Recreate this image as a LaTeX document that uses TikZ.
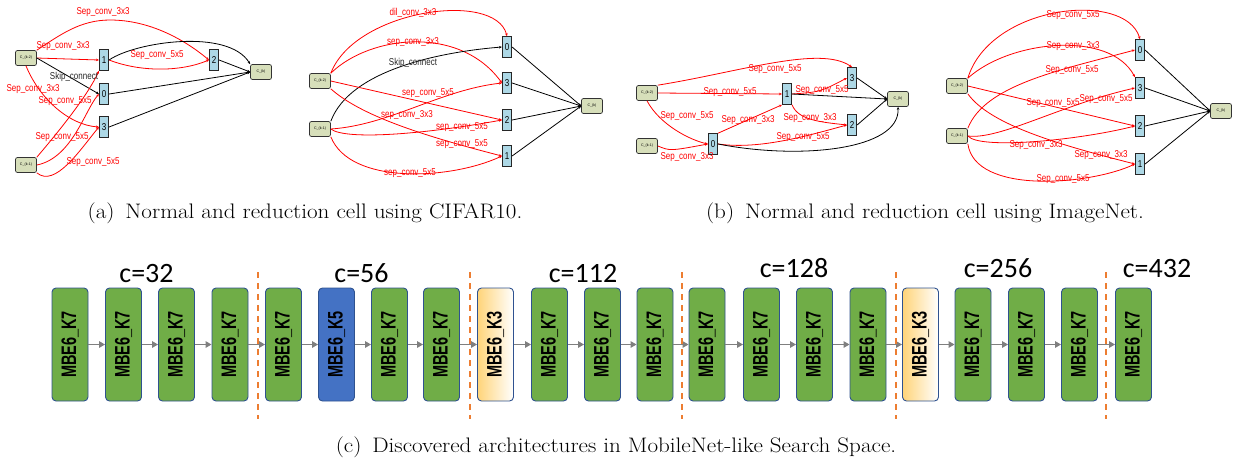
\documentclass[tikz,border=0pt]{standalone}
\usepackage{fontspec}
\newfontfamily\arialf{Liberation Sans}
\newfontfamily\arialn[FakeStretch=0.8]{Liberation Sans}
\newfontfamily\calif{Carlito}
\usetikzlibrary{arrows.meta}
\definecolor{cgreen}{HTML}{70AD47}
\definecolor{cborder}{HTML}{2F528F}
\definecolor{cblue}{HTML}{4472C4}
\definecolor{cyel}{HTML}{FFD479}
\definecolor{corange}{HTML}{ED7D31}
\definecolor{cnodefill}{HTML}{D7DFBA}
\definecolor{onodefill}{HTML}{ADD8E6}
\definecolor{egray}{HTML}{7F7F7F}
\definecolor{ered}{HTML}{FF0000}
\newcommand{\mbelab}[1]{\rotatebox{90}{\scalebox{0.69}[1]{\arialf\bfseries\fontsize{21}{21}\selectfont MBE6\_#1}}}
\newcommand{\captext}[1]{\scalebox{1.1}[1]{#1}}
\tikzset{
  cnode/.style={draw=black!80, line width=0.7pt, rounded corners=2pt, fill=cnodefill, minimum width=21pt, minimum height=15pt, inner sep=0pt, font=\arialf\fontsize{3.6}{4}\selectfont},
  onode/.style={draw=black!85, line width=0.7pt, fill=onodefill, minimum width=9.5pt, minimum height=21pt, inner sep=0pt, font=\arialn\fontsize{10}{10}\selectfont},
  redge/.style={draw=ered, line width=0.8pt, -{Stealth[length=3pt,width=2.6pt]}},
  bedge/.style={draw=black, line width=0.8pt, -{Stealth[length=3pt,width=2.6pt]}},
  elab/.style={text=ered, font=\arialn\fontsize{10}{10}\selectfont, inner sep=0pt},
  blab/.style={text=black!85, font=\arialn\fontsize{10}{10}\selectfont, inner sep=0pt},
  mbe/.style={draw=cborder, line width=0.9pt, rounded corners=4pt, minimum width=36pt, minimum height=113pt, inner sep=0pt},
  mgreen/.style={mbe, fill=cgreen},
  mblue/.style={mbe, fill=cblue},
  myel/.style={mbe, left color=cyel, right color=white},
  garrow/.style={draw=egray, line width=1.3pt, -{Triangle[length=6pt,width=6.5pt]}},
  sepline/.style={draw=corange, line width=1.5pt, dash pattern=on 6pt off 5pt},
  clab/.style={font=\calif\fontsize{28}{28}\selectfont, anchor=base, inner sep=0pt},
  caplab/.style={font=\fontsize{21}{24}\selectfont, anchor=base, inner sep=0pt},
}
\begin{document}
\begin{tikzpicture}[x=1pt,y=-1pt]
\useasboundingbox (0,0) rectangle (1233,461);
% ================= (a) =================
\node[cnode] (ak2) at (26,58) {C\_(k-2)};
\node[cnode] (ak1) at (26,165) {C\_(k-1)};
\node[onode] (a1) at (104,60) {1};
\node[onode] (a0) at (104,94) {0};
\node[onode] (a3) at (104,127) {3};
\node[onode] (a2) at (214,60) {2};
\node[cnode] (ak) at (261,72) {C\_(k)};
\draw[redge] (ak2.north east) .. controls (60,35) and (80,20) .. (110,20) .. controls (150,20) and (185,40) .. (a2.west);
\draw[redge] (ak2.east) -- (a1.west);
\draw[bedge] (ak2.east) -- (a0.west);
\draw[redge] (ak2.south) .. controls (40,100) and (70,125) .. (a3.west);
\draw[redge] (ak1.north east) .. controls (60,130) and (88,95) .. (a1.south west);
\draw[redge] (ak1.east) .. controls (72,158) and (85,110) .. (a0.west);
\draw[redge] (ak1.south east) .. controls (55,188) and (80,150) .. (a3.west);
\draw[redge] (a1.east) .. controls (140,72) and (180,72) .. (a2.west);
\draw[bedge] (a1.east) .. controls (135,42) and (228,28) .. (ak.north west);
\draw[bedge] (a2.east) -- (ak.west);
\draw[bedge] (a0.east) -- (ak.west);
\draw[bedge] (a3.east) -- (ak.west);
\node[elab] (la1) at (103,12) {Sep\_conv\_3x3};
\node[elab] (la2) at (63,46) {Sep\_conv\_3x3};
\node[blab] (la3) at (74,77) {Skip\_connect};
\node[elab] (la4) at (33,89) {Sep\_conv\_3x3};
\node[elab] (la5) at (65,101) {Sep\_conv\_5x5};
\node[elab] (la6) at (62,137) {Sep\_conv\_5x5};
\node[elab] (la7) at (93,162) {Sep\_conv\_5x5};
\node[elab] (la8) at (157,55) {Sep\_conv\_5x5};
% ================= (b) =================
\node[cnode] (bk2) at (320,81) {C\_(k-2)};
\node[cnode] (bk1) at (320,129) {C\_(k-1)};
\node[onode] (b0) at (507,47) {0};
\node[onode] (b3) at (507,83) {3};
\node[onode] (b2) at (507,120) {2};
\node[onode] (b1) at (507,156) {1};
\node[cnode] (bk) at (592,106) {C\_(k)};
\draw[redge] (bk2.north east) .. controls (355,10) and (495,-10) .. (b0.north);
\draw[redge] (bk2.north east) .. controls (370,35) and (460,25) .. (b3.west);
\draw[bedge] (bk1.north east) .. controls (350,70) and (440,52) .. (b0.west);
\draw[redge] (bk2.east) -- (b2.west);
\draw[redge] (bk1.east) .. controls (390,125) and (440,90) .. (b3.west);
\draw[redge] (bk1.east) .. controls (345,140) and (420,135) .. (b2.west);
\draw[redge] (bk2.south east) .. controls (360,115) and (420,135) .. (b1.west);
\draw[redge] (bk1.south east) .. controls (350,185) and (450,180) .. (b1.west);
\draw[bedge] (b0.east) -- (bk.west);
\draw[bedge] (b3.east) -- (bk.west);
\draw[bedge] (b2.east) -- (bk.west);
\draw[bedge] (b1.east) -- (bk.west);
\node[elab] (lb1) at (413,13) {dil\_conv\_3x3};
\node[elab] (lb2) at (413,42) {sep\_conv\_3x3};
\node[blab] (lb3) at (413,63) {Skip\_connect};
\node[elab] (lb4) at (428,93) {sep\_conv\_5x5};
\node[elab] (lb5) at (407,115) {sep\_conv\_3x3};
\node[elab] (lb6) at (462,127) {sep\_conv\_5x5};
\node[elab] (lb7) at (462,144) {sep\_conv\_5x5};
\node[elab] (lb8) at (410,173) {sep\_conv\_5x5};
% ================= (c) =================
\node[cnode] (ck2) at (647,93) {C\_(k-2)};
\node[cnode] (ck1) at (647,146) {C\_(k-1)};
\node[onode] (c1) at (787,94) {1};
\node[onode] (c3) at (852,78) {3};
\node[onode] (c2) at (852,125) {2};
\node[onode] (c0) at (713,144) {0};
\node[cnode] (ck) at (898,99) {C\_(k)};
\draw[redge] (ck2.north east) .. controls (740,72) and (820,45) .. (c3.north);
\draw[redge] (ck2.east) -- (c1.west);
\draw[redge] (ck2.south) .. controls (660,125) and (690,140) .. (c0.west);
\draw[redge] (ck1.east) .. controls (670,151) .. (c0.west);
\draw[redge] (c0.north east) -- (c1.south west);
\draw[redge] (c1.east) .. controls (820,92) .. (c3.west);
\draw[redge] (c1.south east) .. controls (798,120) and (820,122) .. (c2.west);
\draw[redge] (c0.east) .. controls (760,150) and (810,135) .. (c2.west);
\draw[bedge] (c1.east) -- (ck.west);
\draw[bedge] (c3.east) -- (ck.west);
\draw[bedge] (c2.east) -- (ck.west);
\draw[bedge] (c0.east) .. controls (800,160) and (900,150) .. (ck.south);
\node[elab] (lc1) at (775,69) {Sep\_conv\_5x5};
\node[elab] (lc2) at (730,92) {Sep\_conv\_5x5};
\node[elab] (lc3) at (687,116) {Sep\_conv\_5x5};
\node[elab] (lc4) at (687,157) {Sep\_conv\_3x3};
\node[elab] (lc5) at (748,120) {Sep\_conv\_3x3};
\node[elab] (lc6) at (822,90) {Sep\_conv\_5x5};
\node[elab] (lc7) at (810,118) {Sep\_conv\_3x3};
\node[elab] (lc8) at (803,137) {Sep\_conv\_5x5};
% ================= (d) =================
\node[cnode] (dk2) at (957,86) {C\_(k-2)};
\node[cnode] (dk1) at (957,136) {C\_(k-1)};
\node[onode] (d0) at (1140,50) {0};
\node[onode] (d3) at (1140,88) {3};
\node[onode] (d2) at (1140,126) {2};
\node[onode] (d1) at (1140,164) {1};
\node[cnode] (dk) at (1221,111) {C\_(k)};
\draw[redge] (dk2.north east) .. controls (990,5) and (1125,-10) .. (d0.north);
\draw[redge] (dk2.north east) .. controls (1010,40) and (1110,30) .. (d3.north west);
\draw[redge] (dk1.north east) .. controls (985,85) and (1060,70) .. (d0.west);
\draw[redge] (dk2.east) -- (d2.west);
\draw[redge] (dk1.east) .. controls (1000,140) and (1060,105) .. (d3.west);
\draw[redge] (dk1.east) .. controls (980,150) and (1080,140) .. (d2.west);
\draw[redge] (dk2.south east) .. controls (990,125) and (1060,145) .. (d1.west);
\draw[redge] (dk1.south east) .. controls (975,195) and (1090,185) .. (d1.west);
\draw[bedge] (d0.east) -- (dk.west);
\draw[bedge] (d3.east) -- (dk.west);
\draw[bedge] (d2.east) -- (dk.west);
\draw[bedge] (d1.east) -- (dk.west);
\node[elab] (ld1) at (1073,15) {Sep\_conv\_5x5};
\node[elab] (ld2) at (1073,46) {Sep\_conv\_3x3};
\node[elab] (ld3) at (1072,70) {Sep\_conv\_5x5};
\node[elab] (ld4) at (1053,103) {Sep\_conv\_5x5};
\node[elab] (ld5) at (1106,99) {Sep\_conv\_5x5};
\node[elab] (ld6) at (1036,145) {Sep\_conv\_3x3};
\node[elab] (ld7) at (1101,155) {Sep\_conv\_3x3};
\node[elab] (ld8) at (1063,179) {Sep\_conv\_5x5};
% ================= captions =================
\node[caplab] (capa) at (305,218) {\captext{(a)\, Normal and reduction cell using CIFAR10.}};
\node[caplab] (capb) at (925,218) {\captext{(b)\, Normal and reduction cell using ImageNet.}};
\node[caplab] (capc) at (616,452) {\captext{(c)\, Discovered architectures in MobileNet-like Search Space.}};
% ================= (c) row =================
\foreach \i/\xx/\st/\k in {1/70/mgreen/K7, 2/123.5/mgreen/K7, 3/176.5/mgreen/K7, 4/230/mgreen/K7,
  5/283.5/mgreen/K7, 6/336.5/mblue/K5, 7/389.5/mgreen/K7, 8/441.5/mgreen/K7,
  9/495.5/myel/K3, 10/549.5/mgreen/K7, 11/602.5/mgreen/K7, 12/655/mgreen/K7,
  13/707/mgreen/K7, 14/761.5/mgreen/K7, 15/814.5/mgreen/K7, 16/868/mgreen/K7,
  17/920.5/myel/K3, 18/973/mgreen/K7, 19/1026.5/mgreen/K7, 20/1079.5/mgreen/K7,
  21/1133.5/mgreen/K7}
  \node[\st] (m\i) at (\xx,344.5) {\mbelab{\k}};
\foreach \i in {1,...,20} {
  \pgfmathtruncatemacro{\j}{\i+1}
  \draw[garrow] (m\i.east) -- (m\j.west);
}
\foreach \xx in {258,470,682,896,1106}
  \draw[sepline] (\xx,272) -- (\xx,419);
\node[clab] (c32) at (146.5,282) {c=32};
\node[clab] (c56) at (361.5,282) {c=56};
\node[clab] (c112) at (583,282) {c=112};
\node[clab] (c128) at (794,277) {c=128};
\node[clab] (c256) at (998,277) {c=256};
\node[clab] (c432) at (1157,277) {c=432};
\end{tikzpicture}
\end{document}
